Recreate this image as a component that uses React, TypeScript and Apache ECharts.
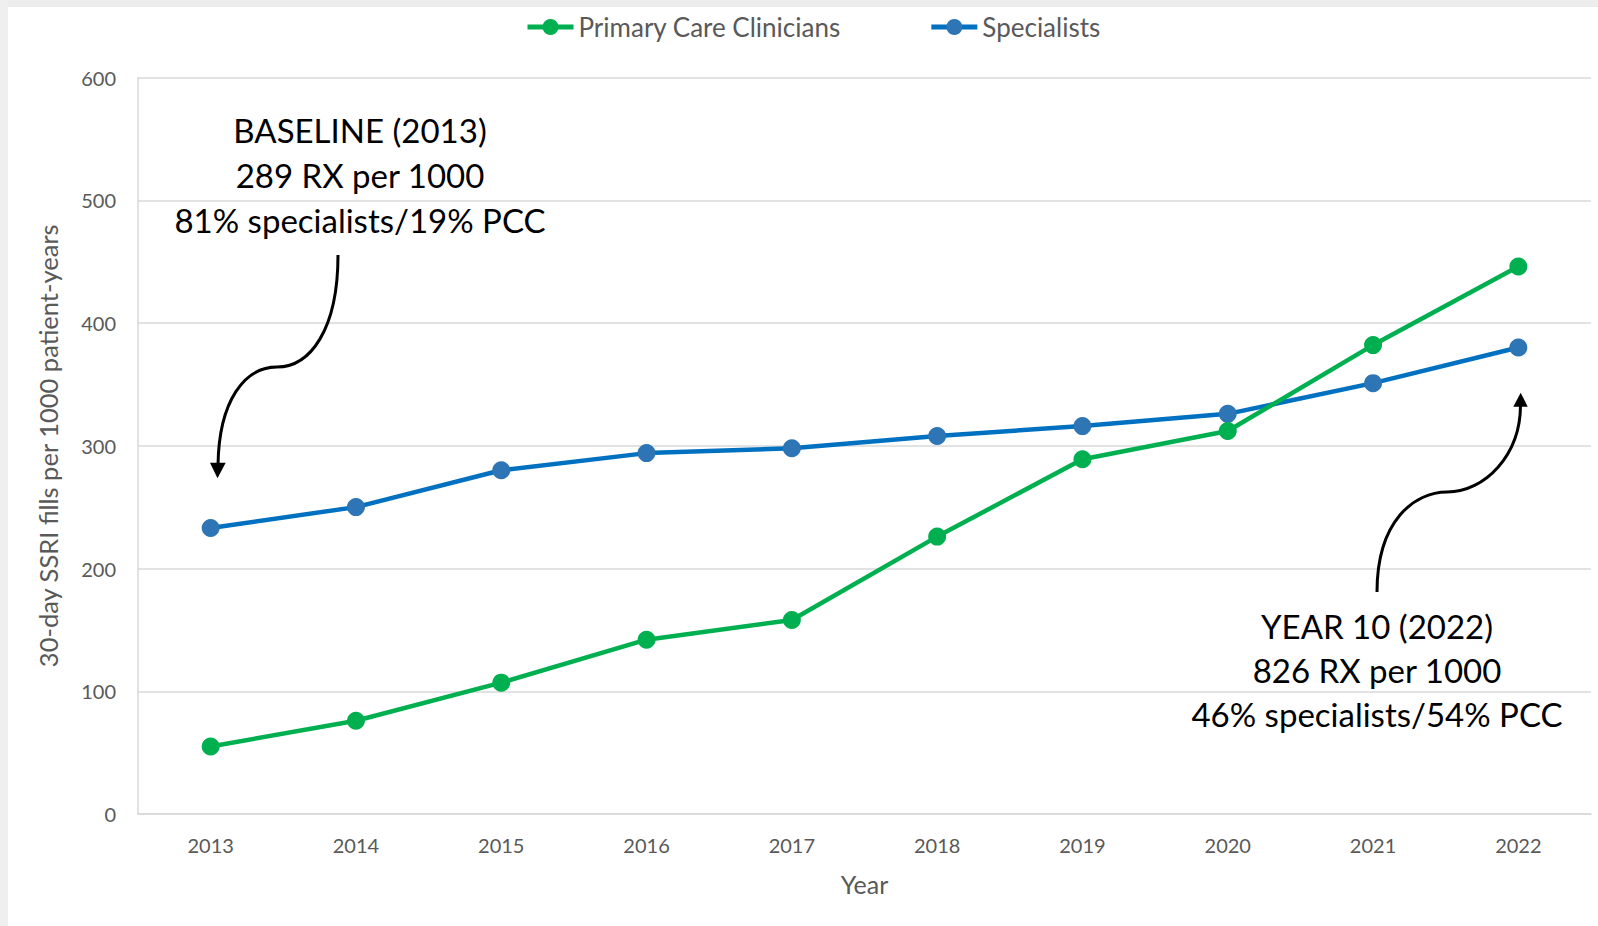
import React, { useEffect, useRef } from "react";
import * as echarts from "echarts";

const years = ["2013", "2014", "2015", "2016", "2017", "2018", "2019", "2020", "2021", "2022"];
const primaryCare = [55, 76, 107, 142, 158, 226, 289, 312, 382, 446];
const specialists = [233, 250, 280, 294, 298, 308, 316, 326, 351, 380];
const yTicks = { min: 0, max: 600, interval: 100 };
const baselineText = ["BASELINE (2013)", "289 RX per 1000", "81% specialists/19% PCC"];
const year10Text = ["YEAR 10 (2022)", "826 RX per 1000", "46% specialists/54% PCC"];

const FONT = "Lato, 'Open Sans', sans-serif";
const GRAY = "#595959";

export default function App() {
  const ref = useRef<HTMLDivElement>(null);
  useEffect(() => {
    if (!ref.current) return;
    const chart = echarts.init(ref.current, null, { renderer: "svg" });
    const textEl = (lines: string[], cx: number, y0: number, gap: number) =>
      lines.map((t, i) => ({
        type: "text",
        x: cx,
        y: y0 + i * gap,
        z: 100,
        style: {
          text: t,
          fill: "#000",
          font: `33px ${FONT}`,
          textAlign: "center",
          textVerticalAlign: "middle",
        },
      }));
    const curve = (p: number[]) => ({
      type: "bezierCurve",
      z: 100,
      shape: { x1: p[0], y1: p[1], cpx1: p[2], cpy1: p[3], cpx2: p[4], cpy2: p[5], x2: p[6], y2: p[7] },
      style: { stroke: "#000", lineWidth: 3, fill: null },
    });
    const option = {
      animation: false,
      backgroundColor: "#fff",
      textStyle: { fontFamily: FONT },
      legend: {
        left: 520,
        top: 9,
        itemWidth: 46,
        itemHeight: 20,
        itemGap: 88,
        lineStyle: { width: 5 },
        textStyle: { color: GRAY, fontSize: 26, fontFamily: FONT },
        data: ["Primary Care Clinicians", "Specialists"],
      },
      grid: { left: 138, right: 7, top: 77.5, bottom: 112, containLabel: false },
      xAxis: {
        type: "category",
        data: years,
        boundaryGap: true,
        name: "Year",
        nameLocation: "middle",
        nameGap: 57,
        nameTextStyle: { color: GRAY, fontSize: 25, fontFamily: FONT },
        axisLine: { lineStyle: { color: "#d9d9d9", width: 1.5 } },
        axisTick: { show: false },
        axisLabel: { color: GRAY, fontSize: 20, margin: 21, fontFamily: FONT },
      },
      yAxis: {
        type: "value",
        min: yTicks.min,
        max: yTicks.max,
        interval: yTicks.interval,
        name: "30-day SSRI fills per 1000 patient-years",
        nameLocation: "middle",
        nameGap: 77,
        nameTextStyle: { color: GRAY, fontSize: 25.5, fontFamily: FONT },
        axisLine: { show: true, lineStyle: { color: "#d9d9d9", width: 1.5 } },
        axisTick: { show: false },
        axisLabel: { color: GRAY, fontSize: 20, margin: 22, fontFamily: FONT },
        splitLine: { lineStyle: { color: "#d9d9d9", width: 1.5 } },
      },
      series: [
        {
          name: "Primary Care Clinicians",
          type: "line",
          data: primaryCare,
          symbol: "circle",
          symbolSize: 18,
          lineStyle: { color: "#00B050", width: 4.5 },
          itemStyle: { color: "#00B050" },
          z: 3,
        },
        {
          name: "Specialists",
          type: "line",
          data: specialists,
          symbol: "circle",
          symbolSize: 18,
          lineStyle: { color: "#0070C0", width: 4.5 },
          itemStyle: { color: "#2E75B6" },
          z: 2,
        },
      ],
      graphic: [
        { type: "rect", shape: { x: 0, y: 0, width: 1598, height: 7 }, style: { fill: "#ededed" }, z: 50 },
        { type: "rect", shape: { x: 0, y: 0, width: 8, height: 926 }, style: { fill: "#efefef" }, z: 50 },
        ...textEl(baselineText, 360, 130, 45),
        ...textEl(year10Text, 1377, 625.5, 44),
        curve([338, 255, 338, 330, 310, 367, 277, 367]),
        curve([277, 367, 245, 367, 219, 400, 218, 465]),
        {
          type: "polygon",
          z: 100,
          shape: { points: [[210, 462.7], [225.7, 462.7], [217.5, 478.3]] },
          style: { fill: "#000" },
        },
        curve([1377, 592, 1377, 520, 1415, 492, 1447, 492]),
        curve([1447, 492, 1485, 492, 1520.5, 455, 1520.5, 405]),
        {
          type: "polygon",
          z: 100,
          shape: { points: [[1513.3, 406.7], [1527.7, 406.7], [1520.7, 392.7]] },
          style: { fill: "#000" },
        },
      ],
    };
    chart.setOption(option as any);
    return () => chart.dispose();
  }, []);
  return (
    <div
      ref={ref}
      style={{ position: "fixed", left: 0, top: 0, width: 1598, height: 926 }}
    />
  );
}
